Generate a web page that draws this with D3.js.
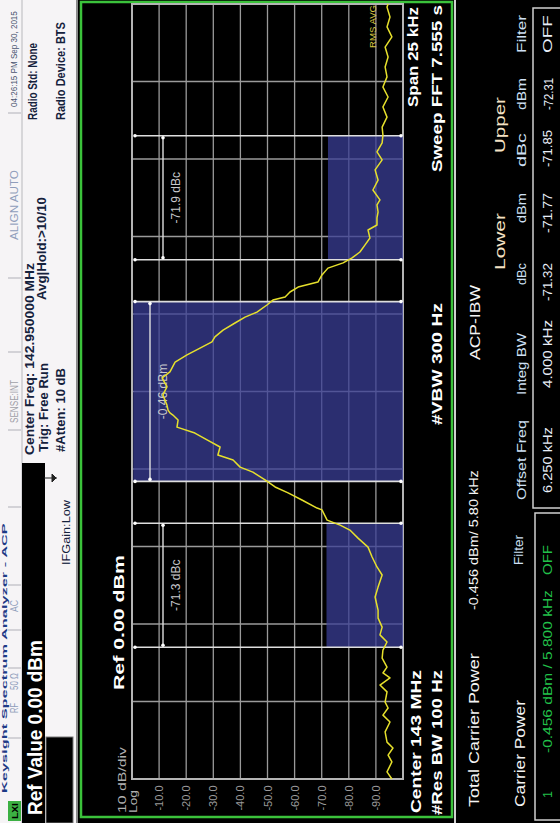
<!DOCTYPE html>
<meta charset="utf-8">
<head>
    <script src="https://d3js.org/d3.v7.min.js"></script>
    <style>
        body { margin: 0; background: #fff; }
        svg { display: block; }
        text { font-family: "Liberation Sans", Arial, sans-serif; }
    </style>
    <title>ACP spectrum</title>
</head>
<body>
<svg id="scr" width="560" height="823"></svg>

<script>
    // trace: frequency offset from 143 MHz centre (kHz) and level (dBm)
    var traceFreq = [-12.50, -12.27, -11.95, -11.73, -11.50, -11.31, -10.98, -10.66, -10.44, -10.21, -10.02, -9.69, -9.47, -9.24, -9.08, -8.89, -8.60, -8.34, -8.08, -7.85, -7.60, -7.31, -7.05, -6.63, -6.31, -5.92, -5.66, -5.34, -5.02, -4.73, -4.47, -4.31, -4.15, -3.82, -3.76, -3.50, -3.27, -3.08, -2.85, -2.60, -2.44, -2.21, -2.05, -1.79, -1.56, -1.34, -1.15, -0.92, -0.76, -0.69, -0.60, -0.44, -0.11, 0.15, 0.44, 0.63, 0.95, 1.18, 1.40, 1.60, 1.76, 1.98, 2.21, 2.40, 2.56, 2.79, 2.95, 3.05, 3.21, 3.37, 3.53, 3.76, 3.98, 4.15, 4.31, 4.50, 4.73, 4.95, 5.21, 5.37, 5.60, 5.79, 6.02, 6.18, 6.50, 6.82, 7.15, 7.47, 7.73, 8.02, 8.27, 8.53, 8.85, 9.18, 9.50, 9.82, 10.15, 10.47, 10.79, 11.11, 11.44, 11.76, 12.08, 12.40, 12.50];
    var traceLevel = [-95.9, -94.1, -95.9, -94.5, -96.3, -94.1, -93.4, -95.2, -92.6, -94.5, -93.4, -94.1, -91.5, -95.2, -92.6, -94.1, -92.3, -92.6, -94.1, -91.5, -92.3, -90.8, -90.8, -89.7, -90.8, -92.3, -90.4, -88.6, -87.1, -83.4, -80.4, -76.8, -72.0, -70.1, -68.3, -62.7, -57.6, -52.8, -49.1, -44.6, -39.9, -37.3, -31.7, -32.5, -27.7, -23.2, -16.6, -17.0, -15.1, -14.0, -13.3, -12.9, -11.4, -12.9, -11.1, -14.0, -15.9, -20.3, -25.1, -29.5, -30.6, -33.6, -38.0, -41.7, -46.1, -49.8, -52.0, -56.5, -58.3, -61.3, -68.6, -70.1, -72.3, -77.9, -81.2, -84.1, -86.0, -87.8, -87.1, -90.4, -90.4, -90.8, -90.4, -91.5, -88.9, -90.8, -89.7, -92.3, -90.4, -92.3, -92.6, -92.3, -94.1, -92.6, -94.5, -92.6, -94.1, -93.4, -94.5, -93.4, -95.9, -94.1, -95.2, -94.1, -94.5];

    // amplitude ticks
    var dbTicks = [-10, -20, -30, -40, -50, -60, -70, -80, -90];

    // integration bands: lower adjacent, carrier, upper adjacent
    var bandLo = [-8.25, -2.90, 4.25];
    var bandHi = [-4.25, 2.90, 8.25];
    var bandPower = [-71.77, -0.456, -72.31];
    var bandLabel = ["-71.3 dBc", "-0.46 dBm", "-71.9 dBc"];

    var W = 823, H = 560;   // the analyser screen is landscape, photo is turned
    var svg = d3.select("#scr");
    var g = svg.append("g").attr("transform", "translate(0," + W + ") rotate(-90)");

    // text squeezed/stretched to run from x0 to x1
    function label(str, x0, x1, yc, size, color, weight) {
        var t = g.append("text")
            .attr("dominant-baseline", "central")
            .style("font-size", size + "px")
            .style("font-weight", weight || "normal")
            .attr("fill", color)
            .text(str);
        var w = t.node().getComputedTextLength();
        var s = x1 ? (x1 - x0) / w : 1;
        t.attr("transform", "translate(" + x0 + "," + yc + ") scale(" + s + ",1)");
        return t;
    }

    // ---------- top panels ----------
    g.append("rect").attr("x", 0).attr("y", 0).attr("width", W).attr("height", 80).attr("fill", "#f6f4f6");
    label("Keysight Spectrum Analyzer - ACP", 30, 300, 4, 8, "#1d3a86", "bold");

    // status bar
    g.append("line").attr("x1", 0).attr("x2", W).attr("y1", 22).attr("y2", 22).attr("stroke", "#b8b8bc");
    g.append("rect").attr("x", 2).attr("y", 8).attr("width", 20).attr("height", 13).attr("fill", "#3cb043");
    label("LXI", 4, 20, 14.5, 9, "#000", "bold");
    [85, 155, 193, 238, 316, 393, 471, 545, 710].forEach(function (x) {
        g.append("line").attr("x1", x).attr("x2", x).attr("y1", 8).attr("y2", 21).attr("stroke", "#b0b0b8");
    });
    label("RF", 110, 120, 15, 10, "#8f9dbb");
    label("50 \u03a9", 133, 150, 15, 10, "#8f9dbb");
    label("AC", 211, 223, 15, 10, "#8f9dbb");
    label("SENSE:INT", 400, 443, 15, 10, "#a0a0a8");
    label("ALIGN AUTO", 583, 653, 14, 10, "#8f9dbb");
    label("04:26:15 PM Sep 30, 2015", 716, 812, 14, 9.5, "#4a5470");

    // active function
    g.append("rect").attr("x", 0).attr("y", 22).attr("width", 360).attr("height", 23).attr("fill", "#000");
    label("Ref Value 0.00 dBm", 8, 183, 35, 21, "#fff", "bold");
    g.append("rect").attr("x", 0).attr("y", 46).attr("width", 86).attr("height", 27)
        .attr("fill", "#000").attr("stroke", "#777");
    label("IFGain:Low", 258, 323, 66, 11, "#15213c");
    g.append("path").attr("d", "M345,44V57M341,52H349L345,56Z").attr("stroke", "#222").attr("fill", "#222");

    // measurement info
    label("Center Freq: 142.950000 MHz", 368, 560, 30, 12, "#15213c", "bold");
    label("Trig: Free Run", 371, 460, 44, 12, "#15213c", "bold");
    label("#Atten: 10 dB", 371, 455, 61, 12, "#15213c", "bold");
    label("Avg|Hold:>10/10", 523, 626, 42, 12, "#15213c", "bold");
    label("Radio Std: None", 703, 780, 33, 12, "#15213c", "bold");
    label("Radio Device: BTS", 703, 801, 61, 12, "#15213c", "bold");

    // ---------- chart frame ----------
    g.append("rect").attr("x", 0).attr("y", 76).attr("width", W).attr("height", H - 76).attr("fill", "#000");
    g.append("line").attr("x1", 0).attr("x2", W).attr("y1", 77).attr("y2", 77).attr("stroke", "#8a8a8a").attr("stroke-width", 2);
    g.append("rect").attr("x", 6).attr("y", 81).attr("width", 815).attr("height", 371)
        .attr("fill", "#000").attr("stroke", "#3bc23b").attr("stroke-width", 2.5);
    g.append("line").attr("x1", 0).attr("x2", W).attr("y1", 455).attr("y2", 455).attr("stroke", "#d0d0d0").attr("stroke-width", 2);

    var x = d3.scaleLinear().domain([-12.5, 12.5]).range([44, 819]);
    var y = d3.scaleLinear().domain([0, -100]).range([132, 403]);

    // grid
    var fDiv = d3.range(-12.5, 12.51, 2.5);
    var dDiv = d3.range(0, -101, -10);
    g.append("g").selectAll("line").data(fDiv).enter().append("line")
        .attr("x1", function (d) { return x(d); }).attr("x2", function (d) { return x(d); })
        .attr("y1", y(0)).attr("y2", y(-100))
        .attr("stroke", "#9a9a9a").attr("stroke-width", 1.3);
    g.append("g").selectAll("line").data(dDiv).enter().append("line")
        .attr("x1", x(-12.5)).attr("x2", x(12.5))
        .attr("y1", function (d) { return y(d); }).attr("y2", function (d) { return y(d); })
        .attr("stroke", "#9a9a9a").attr("stroke-width", 1.3);
    g.append("rect").attr("x", x(-12.5)).attr("y", y(0)).attr("width", x(12.5) - x(-12.5)).attr("height", y(-100) - y(0))
        .attr("fill", "none").attr("stroke", "#b4b4b4").attr("stroke-width", 2);

    // integration bands
    var bands = d3.range(bandLo.length);
    g.append("g").selectAll("rect").data(bands).enter().append("rect")
        .attr("x", function (i) { return x(bandLo[i]); })
        .attr("width", function (i) { return x(bandHi[i]) - x(bandLo[i]); })
        .attr("y", function (i) { return y(bandPower[i]); })
        .attr("height", function (i) { return y(-100) - y(bandPower[i]); })
        .attr("fill", "#3a3e96").attr("fill-opacity", 0.75);

    // band edge markers
    var edges = bandLo.concat(bandHi);
    var mk = g.append("g");
    edges.forEach(function (f) {
        mk.append("line").attr("x1", x(f)).attr("x2", x(f)).attr("y1", y(0) + 3).attr("y2", y(-100) - 2)
            .attr("stroke", "#dedede").attr("stroke-width", 1.6);
        mk.append("circle").attr("cx", x(f)).attr("cy", y(0) + 3).attr("r", 1.8).attr("fill", "#fff");
        mk.append("circle").attr("cx", x(f)).attr("cy", y(-100) - 2).attr("r", 1.8).attr("fill", "#fff");
    });
    bands.forEach(function (i) {
        var yy = i === 1 ? 150 : 163;
        mk.append("line").attr("x1", x(bandLo[i]) + 2).attr("x2", x(bandHi[i]) - 2).attr("y1", yy).attr("y2", yy)
            .attr("stroke", "#dedede").attr("stroke-width", 1.4);
        mk.append("circle").attr("cx", x(bandLo[i]) + 2).attr("cy", yy).attr("r", 1.8).attr("fill", "#fff");
        mk.append("circle").attr("cx", x(bandHi[i]) - 2).attr("cy", yy).attr("r", 1.8).attr("fill", "#fff");
        var mid = (x(bandLo[i]) + x(bandHi[i])) / 2;
        mk.append("text").attr("x", mid).attr("y", i === 1 ? 163 : 176)
            .attr("text-anchor", "middle").attr("dominant-baseline", "central")
            .style("font-size", "12px").attr("fill", "#c8c8cc")
            .text(bandLabel[i]);
    });

    // trace
    var pts = traceFreq.map(function (f, i) { return [f, traceLevel[i]]; });
    g.append("path").datum(pts)
        .attr("d", d3.line().x(function (d) { return x(d[0]); }).y(function (d) { return y(d[1]); }))
        .attr("fill", "none").attr("stroke", "#e6e02c").attr("stroke-width", 1.5).attr("stroke-linejoin", "round");

    // axis text
    g.append("g").selectAll("text").data(dbTicks).enter().append("text")
        .attr("x", 25).attr("y", function (d) { return y(d); })
        .attr("text-anchor", "middle").attr("dominant-baseline", "central")
        .style("font-size", "11px").attr("fill", "#9a9a9a")
        .text(function (d) { return d.toFixed(1); });
    label("10 dB/div", 10, 76, 122, 11, "#b0b0b0");
    label("Log", 10, 33, 133, 11, "#b0b0b0");
    label("Ref 0.00 dBm", 133, 268, 119, 15, "#fff", "bold");
    label("RMS AVG", 775, 818, 373, 9, "#d8c840");
    label("Center  143 MHz", 10, 153, 416, 15, "#fff", "bold");
    label("#Res BW  100 Hz", 8, 153, 437, 15, "#fff", "bold");
    label("#VBW  300 Hz", 398, 520, 437, 15, "#fff", "bold");
    label("Span 25 kHz", 716, 816, 413, 15, "#fff", "bold");
    label("Sweep FFT  7.555 s", 651, 818, 437, 15, "#fff", "bold");

    // ---------- result panel ----------
    label("Total Carrier Power", 16, 170, 474, 15, "#f4f4f4");
    label("-0.456 dBm/ 5.80 kHz", 213, 353, 474, 12, "#f4f4f4");
    label("ACP-IBW", 463, 538, 474, 15, "#f4f4f4");
    label("Carrier Power", 16, 123, 519, 15, "#f4f4f4");
    label("Filter", 258, 288, 519, 12, "#cfe0f5");
    g.append("rect").attr("x", 3).attr("y", 535).attr("width", 307).attr("height", 40)
        .attr("fill", "none").attr("stroke", "#cfcfcf").attr("stroke-width", 1.5);
    label("1", 25, 32, 548, 12, "#22c04a");
    label("-0.456 dBm /  5.800 kHz", 70, 233, 548, 12, "#22c04a");
    label("OFF", 248, 278, 548, 12, "#22c04a");

    g.append("rect").attr("x", 315).attr("y", 533).attr("width", 500).attr("height", 40)
        .attr("fill", "none").attr("stroke", "#cfcfcf").attr("stroke-width", 1.5);
    label("Offset Freq", 323, 403, 522, 12, "#cfe0f5");
    label("Integ BW", 428, 490, 522, 12, "#cfe0f5");
    label("Lower", 553, 610, 500, 15, "#f5e2c4");
    label("Upper", 670, 726, 500, 15, "#f5e2c4");
    label("dBc", 538, 560, 522, 12, "#cfe0f5");
    label("dBm", 600, 630, 522, 12, "#cfe0f5");
    label("dBc", 656, 690, 522, 12, "#cfe0f5");
    label("dBm", 713, 745, 522, 12, "#cfe0f5");
    label("Filter", 770, 808, 522, 12, "#cfe0f5");
    label("6.250 kHz", 330, 396, 548, 12, "#e8eef8");
    label("4.000 kHz", 435, 503, 548, 12, "#e8eef8");
    label("-71.32", 522, 560, 548, 12, "#e8eef8");
    label("-71.77", 590, 630, 548, 12, "#e8eef8");
    label("-71.85", 656, 693, 548, 12, "#e8eef8");
    label("-72.31", 713, 745, 548, 12, "#e8eef8");
    label("OFF", 770, 808, 548, 12, "#e8eef8");
</script>
</body>
